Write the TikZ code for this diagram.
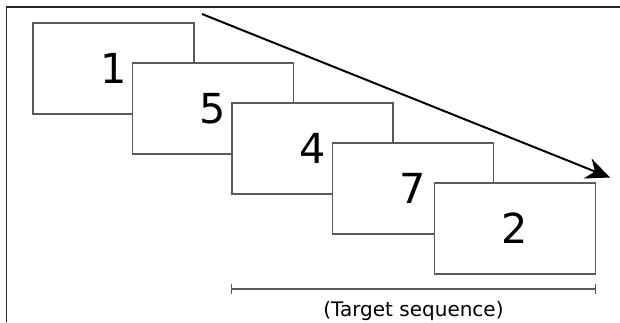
\documentclass[tikz,border=0pt]{standalone}
\usepackage{fontspec}
\setmainfont{DejaVu Sans}
\usetikzlibrary{arrows.meta}

\definecolor{cardgray}{RGB}{90,90,90}

\begin{document}
\begin{tikzpicture}[x=0.75pt,y=0.75pt,yscale=-1,xscale=1,
  card/.style={draw=cardgray,line width=1.1pt,fill=white,minimum width=120.75pt,minimum height=68.25pt,inner sep=0pt,font=\fontsize{31}{31}\selectfont}]
%set diagram to 620 x 322
\useasboundingbox (0,0) rectangle (620,322);

%Frame: left and top edge only
\draw [line width=1.3pt,color={rgb,255:red,40;green,40;blue,40}] (6.5,322) -- (6.5,7) -- (620,7) ;

%Straight Lines: sequence arrow
\coordinate (seqstart) at (202,14);
\coordinate (seqend) at (610,177.5);
\draw [line width=1.5pt,-{Stealth[length=18pt,width=16pt]}] (seqstart) -- (seqend) ;

%Shape: Rectangle cards (drawn in order so each covers the previous)
\node [card] (card1) at (113.5,68.5) {1};
\node [card] (card5) at (213,108.5) {5};
\node [card] (card4) at (312.5,148.5) {4};
\node [card] (card7) at (413,188.5) {7};
\node [card] (card2) at (515,228.5) {2};

%Straight Lines: target span
\coordinate (spanleft) at (231,289);
\coordinate (spanright) at (596,289);
\draw [line width=1.1pt,color=cardgray,{Bar[width=7pt]}-{Bar[width=7pt]}] (spanleft) -- (spanright) ;

% Text Node
\node [inner sep=0pt,font=\fontsize{15}{16}\selectfont] (spanlabel) at (413.5,311) {(Target sequence)};

\end{tikzpicture}
\end{document}
